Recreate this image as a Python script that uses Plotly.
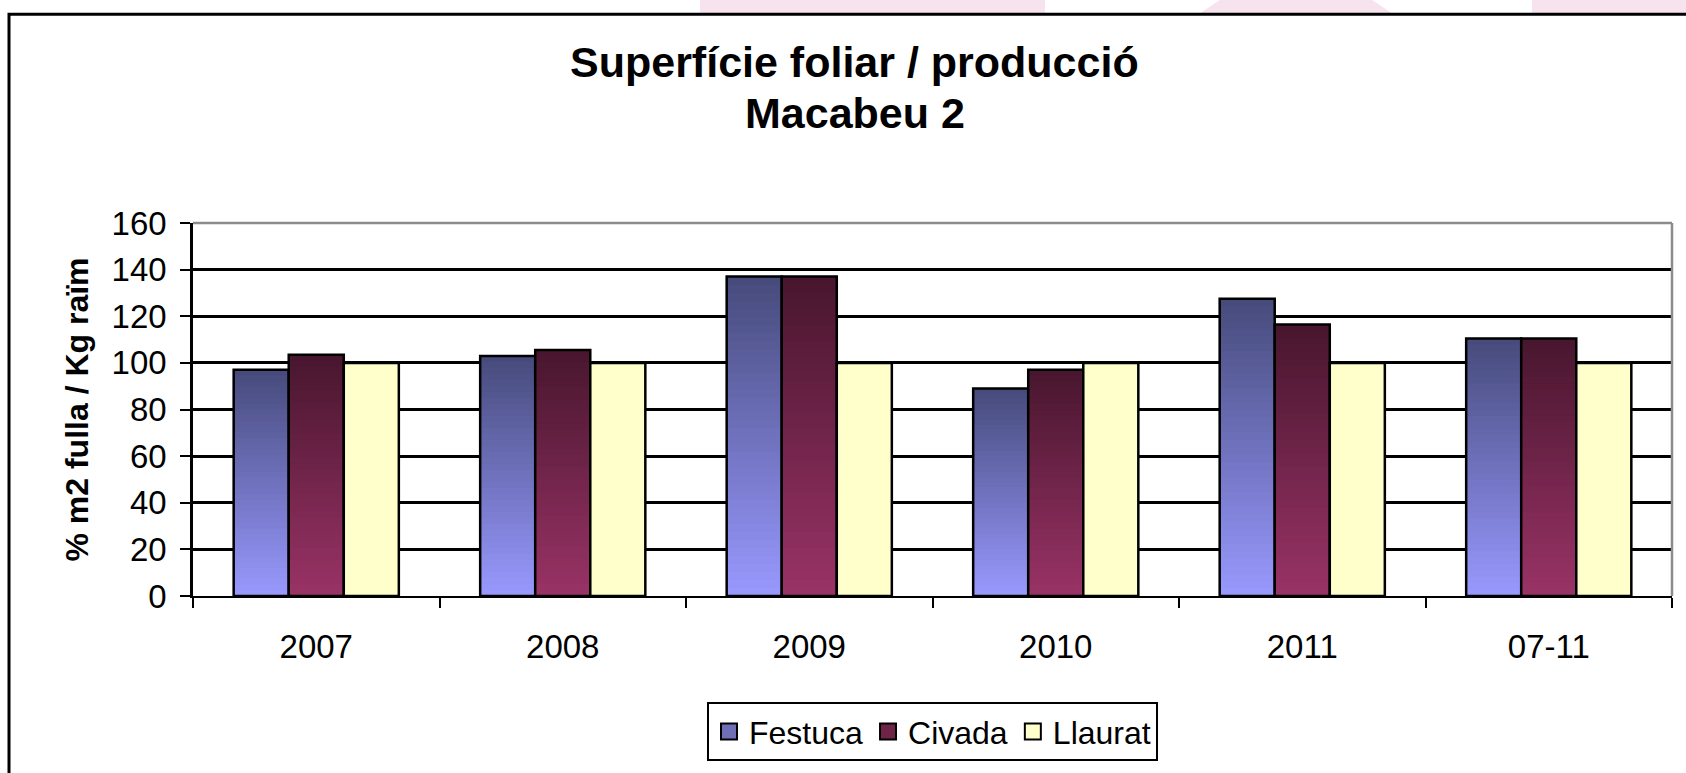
import plotly.graph_objects as go

categories = ["2007", "2008", "2009", "2010", "2011", "07-11"]
festuca = [97, 103, 137, 89, 127.5, 110.5]
civada = [103.5, 105.5, 137, 97, 116.5, 110.5]
llaurat = [100, 100, 100, 100, 100, 100]
series_names = ["Festuca", "Civada", "Llaurat"]

title_line1 = "Superfície foliar / producció"
title_line2 = "Macabeu 2"
y_title = "% m2 fulla / Kg raïm"

FONT = "Liberation Sans, Arial, sans-serif"

# gradient colours (top -> bottom)
grad = {
    "Festuca": ((70, 74, 122), (153, 153, 255)),
    "Civada": ((72, 22, 46), (153, 51, 102)),
}
solid_legend = {"Festuca": "#6f6fb8", "Civada": "#6e2447", "Llaurat": "#ffffcc"}

fig = go.Figure()
N = 40

def mix(c1, c2, t):
    return "rgb(%d,%d,%d)" % tuple(round(a + (b - a) * t) for a, b in zip(c1, c2))

data = {"Festuca": festuca, "Civada": civada, "Llaurat": llaurat}
groups = {"Festuca": "g1", "Civada": "g2", "Llaurat": "g3"}

for name in series_names:
    vals = data[name]
    g = groups[name]
    if name in grad:
        top, bot = grad[name]
        for k in range(N):
            frac = (N - k) / N
            fig.add_trace(go.Bar(
                x=categories, y=[v * frac for v in vals], offsetgroup=g,
                marker=dict(color=mix(top, bot, (k + 0.5) / N), line=dict(width=0)),
                showlegend=False, hoverinfo="skip"))
        fig.add_trace(go.Bar(
            x=categories, y=vals, offsetgroup=g, name=name,
            marker=dict(color="rgba(0,0,0,0)", line=dict(color="black", width=2.5)),
            showlegend=False))
    else:
        fig.add_trace(go.Bar(
            x=categories, y=vals, offsetgroup=g, name=name,
            marker=dict(color="#ffffcc", line=dict(color="black", width=2.5)),
            showlegend=False))

# legend entries
for name in series_names:
    fig.add_trace(go.Scatter(
        x=[None], y=[None], mode="markers", name=name,
        marker=dict(symbol="square", size=20, color=solid_legend[name],
                    line=dict(color="black", width=2))))

PX = lambda px: (px - 193) / 1479  # helper for page-pixel -> paper x
shapes = [
    # outer chart border
    dict(type="rect", xref="paper", yref="paper", x0=PX(9), x1=1.03, y0=-0.55, y1=(599 - 12.5) / 376,
         line=dict(color="black", width=3), fillcolor="rgba(0,0,0,0)", layer="above"),
    # gray plot border top & right
    dict(type="line", xref="x domain", yref="y domain", x0=0, x1=1, y0=1, y1=1,
         line=dict(color="#8c8c8c", width=2.5), layer="above"),
    dict(type="line", xref="x domain", yref="y domain", x0=1, x1=1, y0=0, y1=1,
         line=dict(color="#8c8c8c", width=2.5), layer="above"),
    # faint pink page background above chart
    dict(type="rect", xref="paper", yref="paper", x0=PX(700), x1=PX(1045),
         y0=1.562, y1=1.62, line=dict(width=0), fillcolor="#f6e3ee", layer="below"),
    dict(type="path", xref="paper", yref="paper",
         path="M %f,1.562 L %f,1.562 L %f,1.62 L %f,1.62 Z" % (PX(1200), PX(1392), PX(1360), PX(1232)),
         line=dict(width=0), fillcolor="#f6e3ee", layer="below"),
    dict(type="rect", xref="paper", yref="paper", x0=PX(1532), x1=1.02,
         y0=1.562, y1=1.62, line=dict(width=0), fillcolor="#f6e3ee", layer="below"),
]

fig.update_layout(
    width=1686, height=773,
    margin=dict(l=193, r=14, t=223, b=174),
    paper_bgcolor="white", plot_bgcolor="white",
    barmode="group", bargap=0.33, bargroupgap=0,
    font=dict(family=FONT, color="black"),
    showlegend=True,
    legend=dict(orientation="h", x=0.5, xanchor="center", y=-0.285, yanchor="top",
                bgcolor="white", bordercolor="black", borderwidth=2,
                font=dict(size=32, family=FONT, color="black"), itemwidth=30),
    shapes=shapes,
    annotations=[
        dict(text="<b>%s</b>" % title_line1, xref="paper", yref="paper", x=0.4475, y=1.431,
             xanchor="center", yanchor="middle", showarrow=False,
             font=dict(size=43, family=FONT, color="black")),
        dict(text="<b>%s</b>" % title_line2, xref="paper", yref="paper", x=0.4475, y=1.294,
             xanchor="center", yanchor="middle", showarrow=False,
             font=dict(size=43, family=FONT, color="black")),
    ],
    xaxis=dict(type="category", tickson="boundaries", ticks="outside", ticklen=10, tickwidth=2,
               tickcolor="black", showline=True, linecolor="black", linewidth=2,
               showgrid=False, tickfont=dict(size=33, family=FONT, color="black"),
               ticklabelstandoff=20),
    yaxis=dict(range=[0, 160], dtick=20, ticks="outside", ticklen=10, tickwidth=2,
               tickcolor="black", showline=True, linecolor="black", linewidth=2.5,
               showgrid=True, gridcolor="black", gridwidth=2.5, zeroline=False,
               tickfont=dict(size=33, family=FONT, color="black"), ticklabelstandoff=7,
               title=dict(text="<b>%s</b>" % y_title, standoff=14,
                          font=dict(size=32, family=FONT, color="black"))),
)

fig.write_html("out.html", config={"displayModeBar": False},
               post_script="document.body.style.margin='0';")
